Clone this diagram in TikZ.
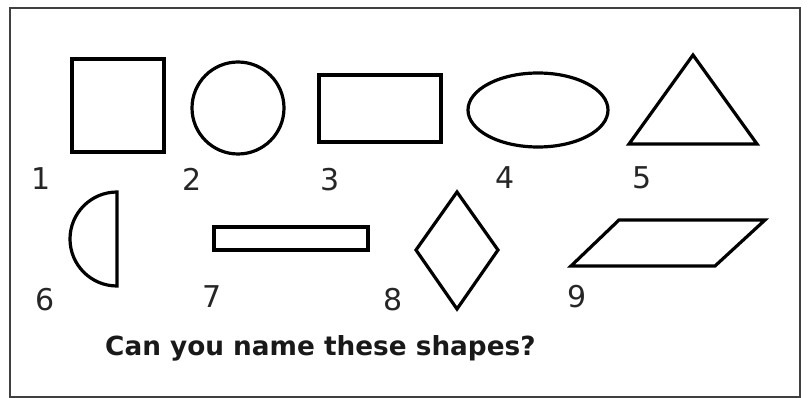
\documentclass[tikz,border=0pt]{standalone}
\usepackage{fontspec}
\setmainfont{DejaVu Sans}
\begin{document}
\begin{tikzpicture}[x=1pt,y=-1pt,
  shp/.style={draw=black,line width=3.2pt,line join=miter},
  num/.style={font=\fontsize{30}{32}\selectfont,text=black!85,inner sep=0pt,anchor=center}]
\useasboundingbox (0,0) rectangle (809,398);
\draw[line width=2.2pt,draw=black!75] (10,8) rectangle (800,397);
% row 1
\draw[shp] (72,59) rectangle (164,152);
\draw[shp] (238,108) circle (46);
\draw[shp] (319,75) rectangle (441,142);
\draw[shp] (538,110) ellipse (70 and 37);
\draw[shp] (693,55) -- (757,144) -- (629,144) -- cycle;
% row 2
\draw[shp] (117,192) -- (117,286) arc[start angle=90,end angle=270,radius=47] -- cycle;
\draw[shp] (214,227) rectangle (368,250);
\draw[shp] (457,192) -- (498,250) -- (457,309) -- (416,250) -- cycle;
\draw[shp] (619,220) -- (765,220) -- (715,266) -- (571,266) -- cycle;
% labels
\node[num] (n1) at (41,179) {1};
\node[num] (n2) at (192,179) {2};
\node[num] (n3) at (330,180) {3};
\node[num] (n4) at (505,178) {4};
\node[num] (n5) at (642,178) {5};
\node[num] (n6) at (45,300) {6};
\node[num] (n7) at (212,297) {7};
\node[num] (n8) at (393,300) {8};
\node[num] (n9) at (577,297) {9};
\node[font=\bfseries\fontsize{26.3}{28}\selectfont,text=black!90,inner sep=0pt,anchor=base west] (q) at (105,355) {Can you name these shapes?};
\end{tikzpicture}
\end{document}
